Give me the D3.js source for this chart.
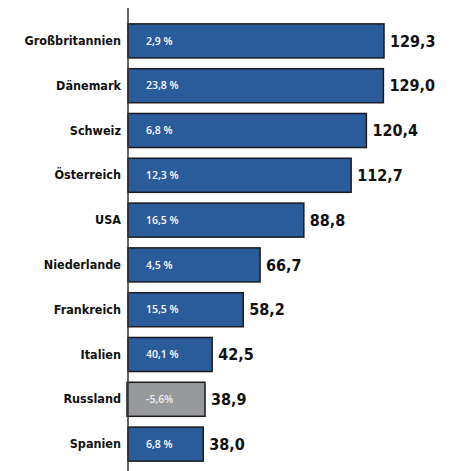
<!DOCTYPE html>
<html>
<head>
<meta charset="utf-8">
<script src="https://cdn.jsdelivr.net/npm/d3@7"></script>
<style>
  body { margin: 0; background: #fff; }
  svg { display: block; }
</style>
</head>
<body>
<svg width="472" height="471"></svg>
<script>
let countries = ["Großbritannien", "Dänemark", "Schweiz", "Österreich", "USA",
    "Niederlande", "Frankreich", "Italien", "Russland", "Spanien"];
let values = [129.3, 129.0, 120.4, 112.7, 88.8, 66.7, 58.2, 42.5, 38.9, 38.0];
let changes = ["2,9 %", "23,8 %", "6,8 %", "12,3 %", "16,5 %", "4,5 %", "15,5 %", "40,1 %", "-5,6%", "6,8 %"];
let negative = ["Russland"];

let svg = d3.select("svg"),
    margin = {top: 24, left: 128},
    width = +svg.attr("width"),
    height = +svg.attr("height");

let data = countries.map((c, i) => ({country: c, value: values[i], change: changes[i]}));

let x = d3.scaleLinear()
    .domain([0, 129.3])
    .range([margin.left, 384]);

let y = d3.scaleBand()
    .domain(countries)
    .range([margin.top - 5.5, margin.top - 5.5 + 44.8 * countries.length])
    .paddingInner(0.24)
    .paddingOuter(0.12);

let fmt = v => d3.format(".1f")(v).replace(".", ",");

let bars = svg.selectAll("g.bar")
    .data(data)
    .enter()
    .append("g")
    .attr("class", "bar");

bars.append("rect")
    .attr("x", d => negative.includes(d.country) ? x(0) - 1 : x(0))
    .attr("y", d => y(d.country))
    .attr("width", d => x(d.value) - x(0) + (negative.includes(d.country) ? 1 : 0))
    .attr("height", y.bandwidth())
    .attr("fill", d => negative.includes(d.country) ? "#98999b" : "#2a5c9c")
    .attr("stroke", "#1b1b1f")
    .attr("stroke-width", 1.5);

bars.append("text")
    .attr("x", x(0) + 18)
    .attr("y", d => y(d.country) + y.bandwidth() / 2)
    .attr("dy", "0.35em")
    .attr("fill", d => negative.includes(d.country) ? "#eeeeee" : "#ffffff")
    .style("font-family", "'Open Sans', sans-serif")
    .style("font-weight", "600")
    .style("font-size", "10.5px")
    .text(d => d.change);

bars.append("text")
    .attr("x", d => x(d.value) + 6)
    .attr("y", d => y(d.country) + y.bandwidth() / 2)
    .attr("dy", "0.36em")
    .attr("fill", "#111")
    .style("font-family", "'DejaVu Sans Condensed', 'DejaVu Sans', sans-serif")
    .style("font-weight", "bold")
    .style("font-size", "16px")
    .text(d => fmt(d.value));

// category axis
let yAxis = d3.axisLeft(y).tickSize(0).tickPadding(7);
let gy = svg.append("g")
    .attr("transform", "translate(" + x(0) + ",0)")
    .call(yAxis);
gy.select(".domain").remove();
gy.selectAll("text")
    .attr("fill", "#111")
    .style("font-family", "'Liberation Sans Narrow', 'DejaVu Sans Condensed', sans-serif")
    .style("font-weight", "bold")
    .style("font-size", "12.5px")
    .style("letter-spacing", "0px");

svg.append("line")
    .attr("x1", x(0)).attr("x2", x(0))
    .attr("y1", 8).attr("y2", height)
    .attr("stroke", "#333")
    .attr("stroke-width", 1.5);
</script>
</body>
</html>
